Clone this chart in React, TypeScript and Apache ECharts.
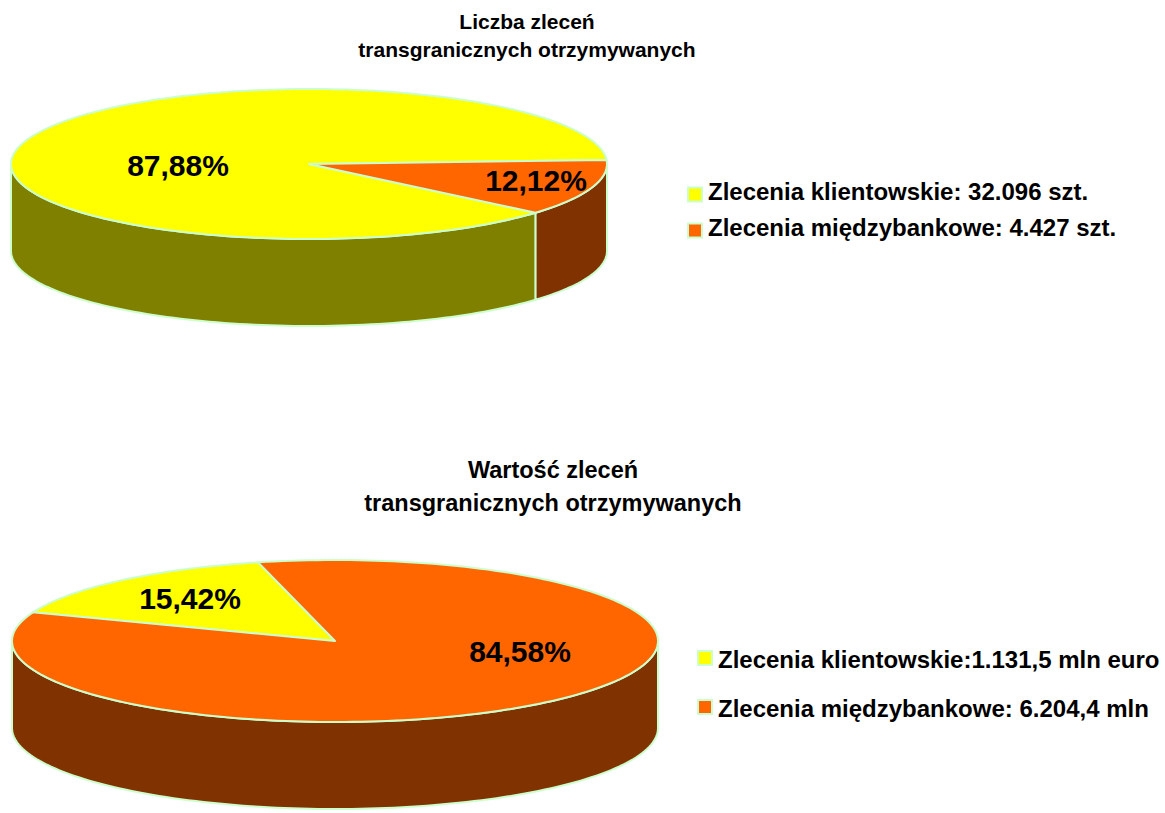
import React, { useEffect, useRef } from "react";
import * as echarts from "echarts";

// ---------- data ----------
const categories = ["Zlecenia klientowskie", "Zlecenia międzybankowe"];
const countValues = [32096, 4427]; // szt.
const amountValues = [1131.5, 6204.4]; // mln euro
const countLegend = ["Zlecenia klientowskie: 32.096 szt.", "Zlecenia międzybankowe: 4.427 szt."];
const amountLegend = ["Zlecenia klientowskie:1.131,5 mln euro", "Zlecenia międzybankowe: 6.204,4 mln"];
const titles = ["Liczba zleceń\ntransgranicznych otrzymywanych", "Wartość zleceń\ntransgranicznych otrzymywanych"];

// ---------- styles ----------
const TOP_COLORS = ["#ffff00", "#ff6600"];
const SIDE_COLORS = ["#808000", "#803300"];
const EDGE = "#ccffcc";
const FONT = '"Liberation Sans", Arial, sans-serif';

type Geo = {
  cx: number; cy: number; rx: number; ry: number; depth: number; start: number;
  labels: number[][];
};

const geoCount: Geo = { cx: 309, cy: 164, rx: 298, ry: 75, depth: 87, start: 40.5, labels: [[178, 165], [536, 180]] };
const geoAmount: Geo = { cx: 335, cy: 641, rx: 323, ry: 81, depth: 87, start: 200.7, labels: [[190, 598], [520, 651]] };

function pct(v: number, total: number) {
  return (v / total * 100).toFixed(2).replace(".", ",") + "%";
}

function makeRender(values: number[], geo: Geo) {
  const total = values.reduce((a, b) => a + b, 0);
  const pt = (deg: number, dy = 0) => {
    const t = (deg * Math.PI) / 180;
    return [geo.cx + geo.rx * Math.cos(t), geo.cy + dy + geo.ry * Math.sin(t)];
  };
  return (params: any, api: any) => {
    const i = params.dataIndex;
    let a0 = geo.start;
    for (let k = 0; k < i; k++) a0 += (values[k] / total) * 360;
    const v = api.value(0);
    const a1 = a0 + (v / total) * 360;
    const children: any[] = [];
    // visible outer wall (front half)
    for (const off of [-360, 0, 360, 720]) {
      const s = Math.max(a0, off);
      const e = Math.min(a1, off + 180);
      if (e > s) {
        const n = Math.max(2, Math.ceil((e - s) / 1.5));
        const pts: number[][] = [];
        for (let j = 0; j <= n; j++) pts.push(pt(s + ((e - s) * j) / n));
        for (let j = n; j >= 0; j--) pts.push(pt(s + ((e - s) * j) / n, geo.depth));
        children.push({
          type: "polygon",
          z2: 1,
          shape: { points: pts },
          style: { fill: SIDE_COLORS[i], stroke: EDGE, lineWidth: 2, lineJoin: "round" },
        });
      }
    }
    // top face
    const n = Math.max(2, Math.ceil((a1 - a0) / 1.5));
    const top: number[][] = [[geo.cx, geo.cy]];
    for (let j = 0; j <= n; j++) top.push(pt(a0 + ((a1 - a0) * j) / n));
    children.push({
      type: "polygon",
      z2: 10,
      shape: { points: top },
      style: { fill: TOP_COLORS[i], stroke: EDGE, lineWidth: 2, lineJoin: "round" },
    });
    // percentage label
    const [lx, ly] = geo.labels[i];
    children.push({
      type: "text",
      z2: 20,
      style: {
        text: pct(v, total),
        x: lx,
        y: ly,
        fill: "#000",
        fontSize: 30,
        fontWeight: "bold",
        fontFamily: FONT,
        align: "center",
        verticalAlign: "middle",
      },
    });
    return { type: "group", children };
  };
}

function legendGraphics(labels: string[], mx: number, tx: number, ys: number[], myOff: number) {
  const els: any[] = [];
  labels.forEach((lab, i) => {
    els.push({
      type: "rect",
      shape: { x: mx - 7, y: ys[i] + myOff - 7, width: 14, height: 14 },
      style: { fill: TOP_COLORS[i], stroke: EDGE, lineWidth: 2 },
    });
    els.push({
      type: "text",
      x: tx,
      y: ys[i],
      style: {
        text: lab,
        fill: "#000",
        fontSize: 24,
        fontWeight: "bold",
        fontFamily: FONT,
        align: "left",
        verticalAlign: "middle",
      },
    });
  });
  return els;
}

export default function App() {
  const ref = useRef<HTMLDivElement>(null);
  useEffect(() => {
    document.body.style.margin = "0";
    const chart = echarts.init(ref.current!, undefined, { renderer: "svg" });
    chart.setOption({
      animation: false,
      backgroundColor: "#ffffff",
      title: [
        {
          text: titles[0],
          left: 527,
          top: 7,
          padding: 0,
          textAlign: "center",
          textStyle: { fontSize: 21, fontWeight: "bold", fontFamily: FONT, lineHeight: 28, color: "#000" },
        },
        {
          text: titles[1],
          left: 553,
          top: 453,
          padding: 0,
          textAlign: "center",
          textStyle: { fontSize: 23.5, fontWeight: "bold", fontFamily: FONT, lineHeight: 33, color: "#000" },
        },
      ],
      series: [
        {
          type: "custom",
          name: "count",
          coordinateSystem: "none",
          data: countValues.map((v, i) => ({ name: categories[i], value: [v] })),
          renderItem: makeRender(countValues, geoCount),
          silent: true,
        },
        {
          type: "custom",
          name: "amount",
          coordinateSystem: "none",
          data: amountValues.map((v, i) => ({ name: categories[i], value: [v] })),
          renderItem: makeRender(amountValues, geoAmount),
          silent: true,
        },
      ],
      graphic: [
        ...legendGraphics(countLegend, 695, 708, [191.5, 227.5], 3),
        ...legendGraphics(amountLegend, 705, 718, [659, 708], -1),
      ],
    });
    return () => chart.dispose();
  }, []);
  return <div ref={ref} style={{ width: 1165, height: 813 }} />;
}
